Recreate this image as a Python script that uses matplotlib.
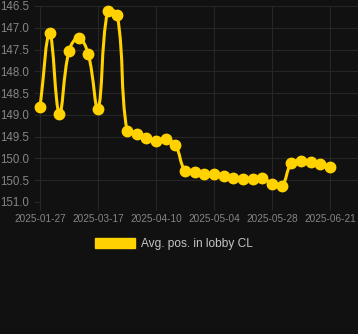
import numpy as np
import matplotlib
matplotlib.use("Agg")
import matplotlib.pyplot as plt
from matplotlib.path import Path
from matplotlib.patches import PathPatch, Patch

plt.rcParams["font.family"] = ["Liberation Sans", "DejaVu Sans"]

# ── Data ──────────────────────────────────────────────────────────────────────
dates = [
    "2025-01-27", "2025-02-04", "2025-02-12", "2025-02-20", "2025-02-28",
    "2025-03-09", "2025-03-17", "2025-03-21", "2025-03-25", "2025-03-29",
    "2025-04-02", "2025-04-06", "2025-04-10", "2025-04-14", "2025-04-18",
    "2025-04-22", "2025-04-26", "2025-04-30", "2025-05-04", "2025-05-08",
    "2025-05-12", "2025-05-16", "2025-05-20", "2025-05-24", "2025-05-28",
    "2025-06-01", "2025-06-05", "2025-06-09", "2025-06-13", "2025-06-17",
    "2025-06-21",
]
avg_pos = [
    148.83, 147.13, 148.97, 147.53, 147.23, 147.61, 148.86, 146.61, 146.71,
    149.37, 149.44, 149.52, 149.61, 149.56, 149.69, 150.28, 150.31, 150.36,
    150.36, 150.41, 150.46, 150.48, 150.48, 150.45, 150.58, 150.64, 150.11,
    150.05, 150.08, 150.13, 150.19,
]
series_label = "Avg. pos. in lobby CL"

BG = "#111111"
GRID = "#262626"
TXT = "#858585"
GOLD = "#FFD200"

fig = plt.figure(figsize=(3.58, 3.34), dpi=100)
fig.patch.set_facecolor(BG)
ax = fig.add_axes([40 / 358, 132 / 334, 318 / 358, 196 / 334])
ax.set_facecolor(BG)

x = np.arange(len(avg_pos), dtype=float)
y = np.array(avg_pos)

ax.set_xlim(0, (358 - 40) / 9.667)
ax.set_ylim(151.0, 146.5)

# ── Chart.js-style spline (tension 0.4), computed in pixel-like space ───────
sx, sy = 9.667, 43.6
px, py = x * sx, y * sy
n = len(x)
cp_prev = np.zeros((n, 2))
cp_next = np.zeros((n, 2))
t = 0.4
for i in range(n):
    p0 = np.array([px[max(i - 1, 0)], py[max(i - 1, 0)]])
    p1 = np.array([px[i], py[i]])
    p2 = np.array([px[min(i + 1, n - 1)], py[min(i + 1, n - 1)]])
    d01 = np.hypot(*(p1 - p0))
    d12 = np.hypot(*(p2 - p1))
    tot = d01 + d12
    s01 = d01 / tot if tot else 0
    s12 = d12 / tot if tot else 0
    cp_prev[i] = p1 - t * s01 * (p2 - p0)
    cp_next[i] = p1 + t * s12 * (p2 - p0)
# cap to chart area
ypix_min, ypix_max = 146.5 * sy, 151.0 * sy
cp_prev[:, 1] = np.clip(cp_prev[:, 1], ypix_min, ypix_max)
cp_next[:, 1] = np.clip(cp_next[:, 1], ypix_min, ypix_max)

verts = [(x[0], y[0])]
codes = [Path.MOVETO]
for i in range(n - 1):
    verts += [(cp_next[i, 0] / sx, cp_next[i, 1] / sy),
              (cp_prev[i + 1, 0] / sx, cp_prev[i + 1, 1] / sy),
              (x[i + 1], y[i + 1])]
    codes += [Path.CURVE4] * 3
ax.add_patch(PathPatch(Path(verts, codes), facecolor="none", edgecolor=GOLD,
                       lw=2.2, zorder=3, clip_on=False))
ax.plot(x, y, "o", color=GOLD, ms=7.5, zorder=4, clip_on=False)

# ── Axes styling ─────────────────────────────────────────────────────────────
tick_idx = list(range(0, n, 6))
ax.set_xticks(tick_idx)
ax.set_xticklabels([dates[i] for i in tick_idx], fontsize=7.2, color=TXT)
ax.set_yticks(np.arange(146.5, 151.01, 0.5))
ax.set_yticklabels([f"{v:.1f}" for v in np.arange(146.5, 151.01, 0.5)],
                   fontsize=8.3, color=TXT)
ax.tick_params(axis="x", length=6, width=0.8, color=GRID, pad=3)
ax.tick_params(axis="y", length=4, width=0.8, color=GRID, pad=4)
ax.grid(True, color=GRID, lw=0.8)
ax.set_axisbelow(True)
for side, sp in ax.spines.items():
    sp.set_visible(side == "left")
    sp.set_color(GRID)

leg = fig.legend(handles=[Patch(facecolor=GOLD, edgecolor=GOLD, label=series_label)],
                 loc="center", bbox_to_anchor=(174 / 358, 1 - 244 / 334),
                 frameon=False, fontsize=8.6, handlelength=3.3, handleheight=1.0,
                 handletextpad=0.5)
for txt in leg.get_texts():
    txt.set_color("#c4c4c4")

fig.savefig("out.png", dpi=100, facecolor=BG)
